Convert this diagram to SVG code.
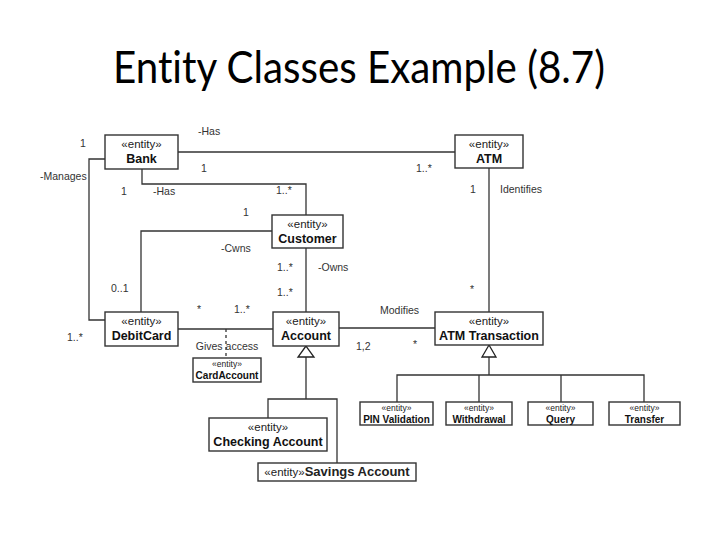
<svg xmlns="http://www.w3.org/2000/svg" width="720" height="540" viewBox="0 0 720 540">
<style>
.box{fill:#fff;stroke:#333;stroke-width:1.4}
.ln{fill:none;stroke:#333;stroke-width:1.3}
.st{font-family:"Liberation Sans",Arial,sans-serif;font-size:11.5px;fill:#222;text-anchor:middle}
.nm{font-family:"Liberation Sans",Arial,sans-serif;font-size:12.5px;font-weight:bold;fill:#111;text-anchor:middle}
.sst{font-family:"Liberation Sans",Arial,sans-serif;font-size:8.5px;fill:#222;text-anchor:middle}
.snm{font-family:"Liberation Sans",Arial,sans-serif;font-size:10px;font-weight:bold;fill:#111;text-anchor:middle}
.lb{font-family:"Liberation Sans",Arial,sans-serif;font-size:10.5px;fill:#333}
.tri{fill:#fff;stroke:#222;stroke-width:1.3}
</style>
<rect width="720" height="540" fill="#fff"/>
<text x="359" y="83" font-family="Lato,'Open Sans',sans-serif" font-size="45" text-anchor="middle" textLength="492" lengthAdjust="spacingAndGlyphs" style="font-variant-ligatures:none" fill="#000">Entity Classes Example (8.7)</text>

<g id="connectors">
<path class="ln" d="M178 152 H455"/>
<path class="ln" d="M105 159 H89 V320 H105"/>
<path class="ln" d="M142 169 V184 H306 V215"/>
<path class="ln" d="M272 231 H141 V312"/>
<path class="ln" d="M306 248 V312"/>
<path class="ln" d="M178 329 H273"/>
<path class="ln" d="M226 329 V358" stroke-dasharray="3 3"/>
<path class="ln" d="M339 328 H435"/>
<path class="ln" d="M489 168 V312"/>
<path class="ln" d="M306 357 V399 M268 418 V399 H337 V463"/>
<polygon class="tri" points="306,346 298,357 314,357"/>
<path class="ln" d="M489 357 V375" stroke-width="2.2"/>
<path class="ln" d="M397 402 V375 H644 V402 M479 375 V402 M561 375 V402"/>
<polygon class="tri" points="489,345 482,357 496,357"/>
</g>

<g id="labels">
<text class="lb" x="198" y="135">-Has</text>
<text class="lb" x="80" y="147">1</text>
<text class="lb" x="201" y="172">1</text>
<text class="lb" x="416" y="172">1..*</text>
<text class="lb" x="40" y="180">-Manages</text>
<text class="lb" x="121" y="195">1</text>
<text class="lb" x="153" y="195">-Has</text>
<text class="lb" x="276" y="194">1..*</text>
<text class="lb" x="470" y="193">1</text>
<text class="lb" x="500" y="193">Identifies</text>
<text class="lb" x="243" y="216">1</text>
<text class="lb" x="221" y="252">-Cwns</text>
<text class="lb" x="277" y="271">1..*</text>
<text class="lb" x="318" y="271">-Owns</text>
<text class="lb" x="111" y="292">0..1</text>
<text class="lb" x="277" y="296">1..*</text>
<text class="lb" x="470" y="293">*</text>
<text class="lb" x="197" y="313">*</text>
<text class="lb" x="234" y="313">1..*</text>
<text class="lb" x="380" y="314">Modifies</text>
<text class="lb" x="356" y="350">1,2</text>
<text class="lb" x="413" y="348">*</text>
<text class="lb" x="67" y="341">1..*</text>
<text class="lb" x="227" y="350" text-anchor="middle">Gives access</text>
</g>

<g id="bank"><rect class="box" x="105" y="135" width="73" height="34"/><text class="st" x="141.5" y="148">«entity»</text><text class="nm" x="141.5" y="163">Bank</text></g>
<g id="atm"><rect class="box" x="455" y="135" width="68" height="33"/><text class="st" x="489" y="148">«entity»</text><text class="nm" x="489" y="163">ATM</text></g>
<g id="customer"><rect class="box" x="272" y="215" width="71" height="33"/><text class="st" x="307.5" y="228">«entity»</text><text class="nm" x="307.5" y="243">Customer</text></g>
<g id="debitcard"><rect class="box" x="105" y="312" width="73" height="34"/><text class="st" x="141.5" y="325">«entity»</text><text class="nm" x="141.5" y="340">DebitCard</text></g>
<g id="account"><rect class="box" x="273" y="312" width="66" height="34"/><text class="st" x="306" y="325">«entity»</text><text class="nm" x="306" y="340">Account</text></g>
<g id="atmtransaction"><rect class="box" x="435" y="312" width="108" height="33"/><text class="st" x="489" y="325">«entity»</text><text class="nm" x="489" y="340">ATM Transaction</text></g>
<g id="cardaccount"><rect class="box" x="193" y="358" width="68" height="24"/><text class="sst" x="227" y="367">«entity»</text><text class="snm" x="227" y="379">CardAccount</text></g>
<g id="checking"><rect class="box" x="209" y="418" width="118" height="33"/><text class="st" x="268" y="431">«entity»</text><text class="nm" x="268" y="446">Checking Account</text></g>
<g id="savings"><rect class="box" x="258" y="463" width="158" height="18"/><text class="st" x="337" y="476" font-size="12" text-anchor="middle">«entity»<tspan font-weight="bold" font-size="13">Savings Account</tspan></text></g>
<g id="pinvalidation"><rect class="box" x="360" y="402" width="73" height="23"/><text class="sst" x="396.5" y="410.5">«entity»</text><text class="snm" x="396.5" y="422.5">PIN Validation</text></g>
<g id="withdrawal"><rect class="box" x="446" y="402" width="66" height="23"/><text class="sst" x="479" y="410.5">«entity»</text><text class="snm" x="479" y="422.5">Withdrawal</text></g>
<g id="query"><rect class="box" x="528" y="402" width="65" height="23"/><text class="sst" x="560.5" y="410.5">«entity»</text><text class="snm" x="560.5" y="422.5">Query</text></g>
<g id="transfer"><rect class="box" x="609" y="402" width="71" height="23"/><text class="sst" x="644.5" y="410.5">«entity»</text><text class="snm" x="644.5" y="422.5">Transfer</text></g>
</svg>
